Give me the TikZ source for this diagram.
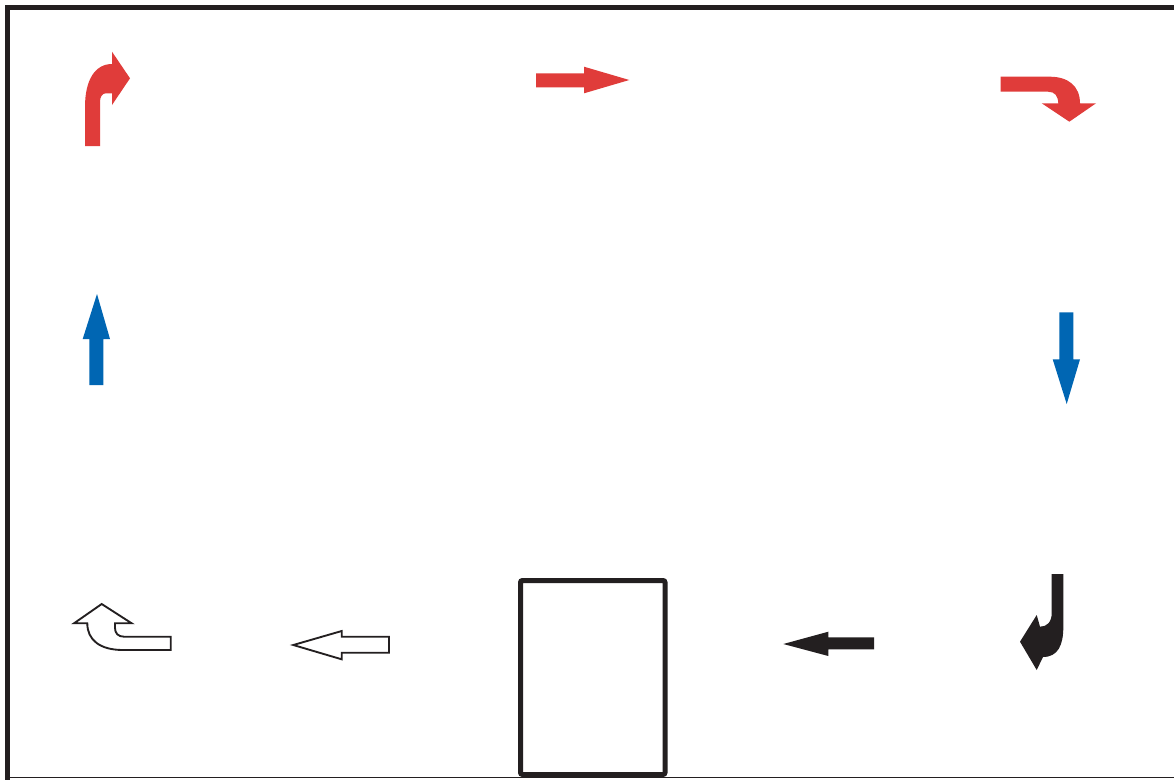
\documentclass[tikz,border=0pt]{standalone}
\definecolor{rd}{HTML}{E03C3A}
\definecolor{bl}{HTML}{0066B3}
\definecolor{bk}{HTML}{231F20}
\begin{document}
\begin{tikzpicture}[x=0.75pt,y=-0.75pt,
  redarrow/.style={fill=rd,draw=none},
  bluearrow/.style={fill=bl,draw=none},
  blackarrow/.style={fill=bk,draw=none},
  outlinearrow/.style={fill=white,draw=bk,line width=1.4pt,line join=miter},
  frameline/.style={draw=bk,line width=3.75pt},
  boxstyle/.style={draw=bk,line width=3.75pt,rounded corners=1.5pt}]
\useasboundingbox (0,0) rectangle (1174,779);
\fill[white] (0,0) rectangle (1174,779);
% frame
\draw[frameline] (1180,7.5) -- (7,7.5) -- (7,785);
\draw[bk,line width=0.9pt] (7,777.5) -- (1180,777.5);
% box
\draw[boxstyle] (520.5,580.5) rectangle (665,774.5);
% red straight arrow
\path[redarrow] (536,73.3) -- (584,73.3) -- (584,66.7) -- (629.3,80) -- (584,93.3) -- (584,87.3) -- (536,87.3) -- cycle;
% red curved top-left
\path[redarrow] (85,146) -- (85,107) .. controls (85,80) and (95,64) .. (112,64) -- (112,51.7) -- (130,78.3) -- (112,105) -- (112,93.3) -- (106,93.3) .. controls (102,93.3) and (100,97) .. (100,102) -- (100,146) -- cycle;
% red curved top-right
\path[redarrow] (1000.7,76.7) -- (1050,76.7) .. controls (1068,76.7) and (1080,86) .. (1080,103.3) -- (1096,103.3) -- (1069.3,121.7) -- (1041.7,103.3) -- (1058.3,103.3) .. controls (1058,96) and (1055,91.7) .. (1048,91.7) -- (1000.7,91.7) -- cycle;
% blue up
\path[bluearrow] (89.3,385) -- (89.3,339) -- (82.7,339) -- (97,294) -- (110,339) -- (103.3,339) -- (103.3,385) -- cycle;
% blue down
\path[bluearrow] (1059.3,312.3) -- (1059.3,359.3) -- (1052.7,359.3) -- (1066.7,404) -- (1080,359.3) -- (1073.3,359.3) -- (1073.3,312.3) -- cycle;
% black left
\path[blackarrow] (874,637.3) -- (828.3,637.3) -- (828.3,631.7) -- (783.3,644) -- (828.3,656) -- (828.3,649.3) -- (874,649.3) -- cycle;
% black curved bottom-right
\path[blackarrow] (1051.7,574) -- (1063.3,574) -- (1063.3,627) .. controls (1063.3,645) and (1058,657) .. (1043,657) -- (1036.7,670) -- (1020,641.7) -- (1036.7,615) -- (1040,626.7) .. controls (1047,626.7) and (1051.7,622) .. (1051.7,613) -- cycle;
% outline left
\draw[outlinearrow] (389,636.7) -- (341.7,636.7) -- (341.7,631) -- (293.3,645) -- (341.7,659.3) -- (341.7,652.7) -- (389,652.7) -- cycle;
% outline curved bottom-left
\draw[outlinearrow] (170.7,636.7) -- (124,636.7) .. controls (118,636.7) and (115,633) .. (115,628) -- (115,623.3) -- (131.7,623.3) -- (101.7,604) -- (74,623.3) -- (87.3,623.3) .. controls (87.3,640) and (100,650) .. (123,650) -- (170.7,650) -- cycle;
\end{tikzpicture}
\end{document}
